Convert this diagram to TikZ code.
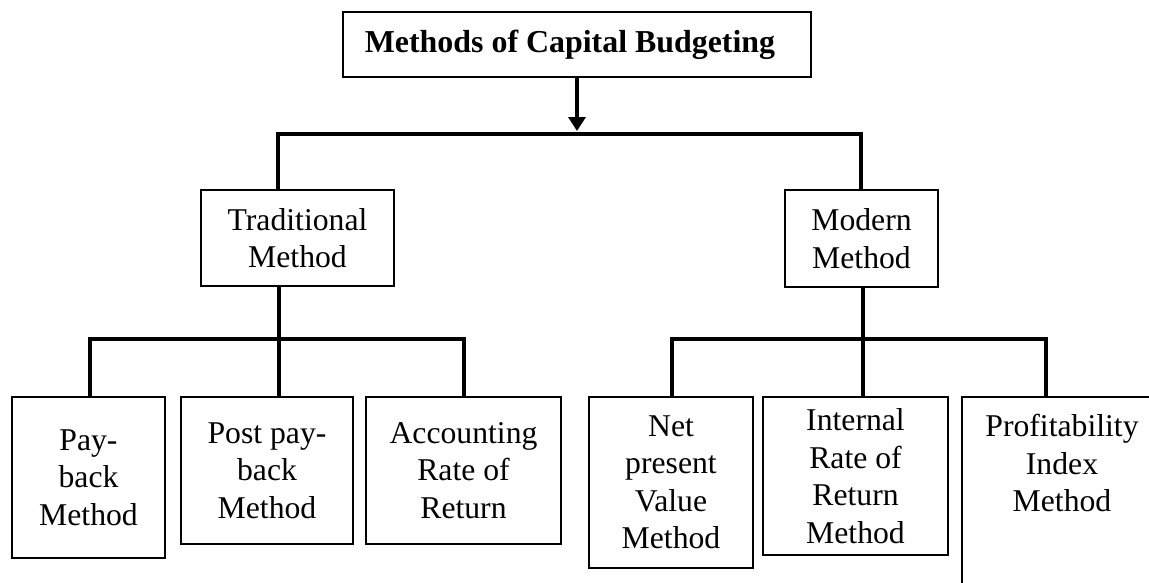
\documentclass[tikz,border=0pt]{standalone}
\usepackage{fontspec}
\setmainfont{Liberation Serif}
\usetikzlibrary{arrows.meta}
\tikzset{
  box/.style={draw, line width=1.6pt, inner sep=0pt, align=center,
    font=\fontsize{31.7}{37.5}\selectfont},
  conn/.style={line width=4pt},
  txt/.style={inner sep=0pt, align=center, font=\fontsize{31.7}{37.5}\selectfont}
}
\begin{document}
\begin{tikzpicture}[x=1pt,y=-1pt]
\useasboundingbox (0,0) rectangle (1149,582);
\clip (0,0) rectangle (1149,582);
\fill[white] (0,0) rectangle (1149,582);
% boxes
\node[box, minimum width=468pt, minimum height=65pt, font=\fontsize{31.9}{37.5}\selectfont\bfseries] (top) at (577,44.5) {Methods of Capital Budgeting\hspace*{14pt}};
\node[box, minimum width=193pt, minimum height=96pt] (trad) at (297.5,238) {Traditional\\Method};
\node[box, minimum width=153pt, minimum height=97pt] (modern) at (861.5,238.5) {Modern\\Method};
\node[box, minimum width=153pt, minimum height=161pt] (payback) at (88.5,477.5) {Pay-\\back\\Method};
\node[box, minimum width=172pt, minimum height=147pt] (postpay) at (267,470.5) {Post pay-\\back\\Method};
\node[box, minimum width=195pt, minimum height=147pt] (arr) at (463.5,470.5) {Accounting\\Rate of\\Return};
\node[box, minimum width=164pt, minimum height=171pt] (npv) at (671,482.5) {Net\\present\\Value\\Method};
\node[box, minimum width=185pt, minimum height=158pt] (irr) at (855.5,476) {Internal\\Rate of\\Return\\Method};
\node[box, minimum width=240pt, minimum height=240pt, anchor=north west] (profit) at (961,396) {};
\node[txt] (profitlabel) at (1062,463) {Profitability\\Index\\Method};
% junction coordinates
\coordinate (jtip) at (577,131);
\coordinate (jl) at (278,134);
\coordinate (jr) at (861,134);
\coordinate (la) at (90,339);
\coordinate (lc) at (279,339);
\coordinate (lr) at (464,339);
\coordinate (ra) at (672,339);
\coordinate (rc) at (863,339);
\coordinate (rr) at (1046,339);
% connectors
\draw[conn, -{Triangle[length=14pt,width=17pt]}] (top.south -| jtip) -- (jtip);
\draw[conn] (trad.north -| jl) -- (jl) -- (jr) -- (modern.north -| jr);
\draw[conn] (trad.south -| lc) -- (postpay.north -| lc);
\draw[conn] (payback.north -| la) -- (la) -- (lr) -- (arr.north -| lr);
\draw[conn] (modern.south -| rc) -- (irr.north -| rc);
\draw[conn] (npv.north -| ra) -- (ra) -- (rr) -- (profit.north -| rr);
\end{tikzpicture}
\end{document}
